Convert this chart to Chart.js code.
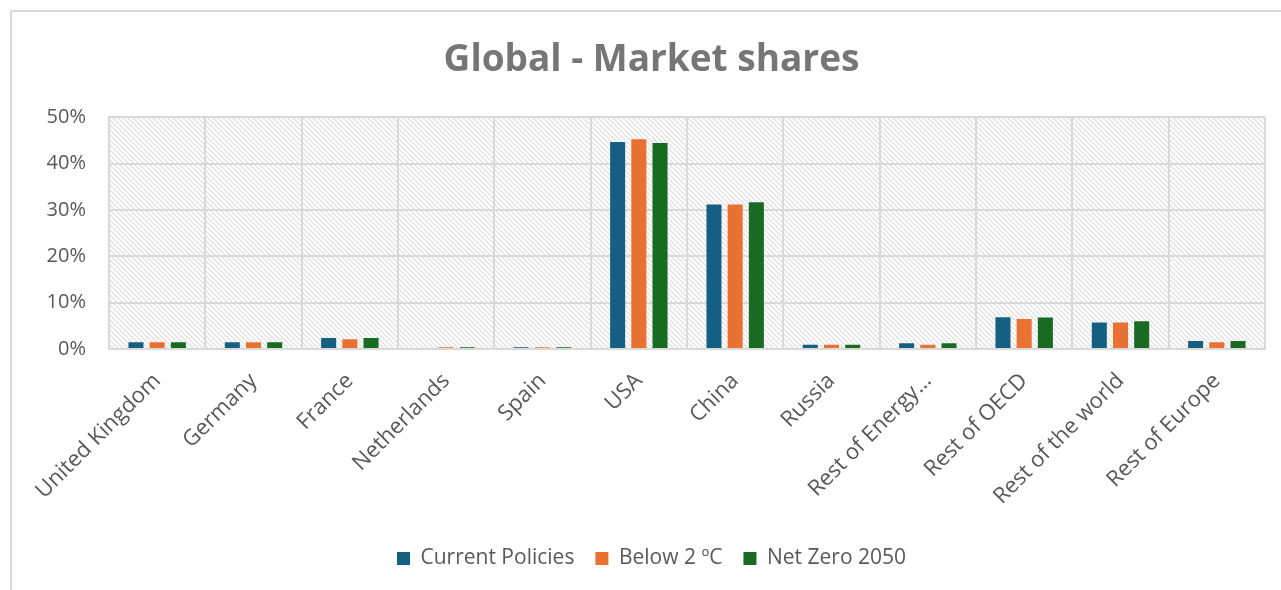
<!DOCTYPE html>
<html>
<head>
<meta charset="utf-8">
<script src="https://cdn.jsdelivr.net/npm/chart.js@4"></script>
<style>
    html, body { margin: 0; padding: 0; background: #ffffff; overflow: hidden; }
    #wrap { position: absolute; left: 0; top: 0; width: 1281px; height: 590px; }
</style>
</head>
<body>
<div id="wrap"><canvas id="marketChart" width="1281" height="590"></canvas></div>
<script>
const categories = ["United Kingdom", "Germany", "France", "Netherlands", "Spain", "USA", "China", "Russia", "Rest of Energy…", "Rest of OECD", "Rest of the world", "Rest of Europe"];
const currentPolicies = [1.45, 1.45, 2.4, 0, 0.4, 44.7, 31.2, 0.9, 1.25, 6.85, 5.7, 1.75];
const below2 = [1.45, 1.45, 2.1, 0.4, 0.4, 45.3, 31.2, 0.9, 0.9, 6.5, 5.7, 1.45];
const netZero2050 = [1.45, 1.45, 2.4, 0.4, 0.4, 44.5, 31.7, 0.9, 1.25, 6.8, 6.0, 1.75];
const yTicks = [0, 10, 20, 30, 40, 50];

const GRID = "#d9d9d9";
const TEXT = "#595959";
const FONT = "'Open Sans', 'Liberation Sans', sans-serif";

// diagonal hatch used as plot background
function makeHatch() {
    const c = document.createElement("canvas");
    c.width = 5;
    c.height = 5;
    const g = c.getContext("2d");
    g.strokeStyle = "#dcdcdc";
    g.lineWidth = 1.2;
    g.beginPath();
    g.moveTo(-1, -1); g.lineTo(6, 6);
    g.moveTo(-1, 4); g.lineTo(1, 6);
    g.moveTo(4, -1); g.lineTo(6, 1);
    g.stroke();
    return g.createPattern(c, "repeat");
}

const frame = {
    id: "frame",
    beforeDraw(chart) {
        const ctx = chart.ctx;
        const a = chart.chartArea;
        ctx.save();
        ctx.strokeStyle = GRID;
        ctx.lineWidth = 2;
        ctx.beginPath();
        ctx.moveTo(11, 590);
        ctx.lineTo(11, 11);
        ctx.lineTo(1281, 11);
        ctx.stroke();
        ctx.fillStyle = makeHatch();
        ctx.fillRect(a.left, a.top, a.right - a.left, a.bottom - a.top);
        ctx.restore();
    }
};

const ctx = document.getElementById("marketChart").getContext("2d");
new Chart(ctx, {
    type: "bar",
    data: {
        labels: categories,
        datasets: [
            { label: "Current Policies", data: currentPolicies, backgroundColor: "#156082" },
            { label: "Below 2 ºC", data: below2, backgroundColor: "#e97132" },
            { label: "Net Zero 2050", data: netZero2050, backgroundColor: "#196b24" }
        ]
    },
    options: {
        responsive: false,
        animation: false,
        layout: { padding: { left: 38, right: 16, top: 0, bottom: 11 } },
        datasets: {
            bar: { categoryPercentage: 0.66, barPercentage: 0.71 }
        },
        plugins: {
            title: {
                display: true,
                text: "Global - Market shares",
                color: "#767676",
                font: { family: FONT, size: 37, weight: "bold" },
                padding: { top: 38, bottom: 35 }
            },
            legend: {
                position: "bottom",
                labels: {
                    color: TEXT,
                    font: { family: FONT, size: 21 },
                    boxWidth: 13,
                    boxHeight: 13,
                    padding: 21
                }
            },
            tooltip: { enabled: false }
        },
        scales: {
            x: {
                grid: { color: GRID, lineWidth: 2, drawTicks: false },
                border: { color: GRID, width: 2 },
                ticks: {
                    color: TEXT,
                    font: { family: FONT, size: 22 },
                    minRotation: 45,
                    maxRotation: 45,
                    padding: 19
                },
                afterFit(scale) { scale.height = 178; }
            },
            y: {
                min: 0,
                max: 50,
                afterBuildTicks(scale) { scale.ticks = yTicks.map(v => ({ value: v })); },
                grid: { color: GRID, lineWidth: 2, drawTicks: false },
                border: { color: GRID, width: 2 },
                ticks: {
                    color: TEXT,
                    font: { family: FONT, size: 20 },
                    padding: 23,
                    callback: v => v + "%"
                },
                afterFit(scale) { scale.width = 71; }
            }
        }
    },
    plugins: [frame]
});
</script>
</body>
</html>
